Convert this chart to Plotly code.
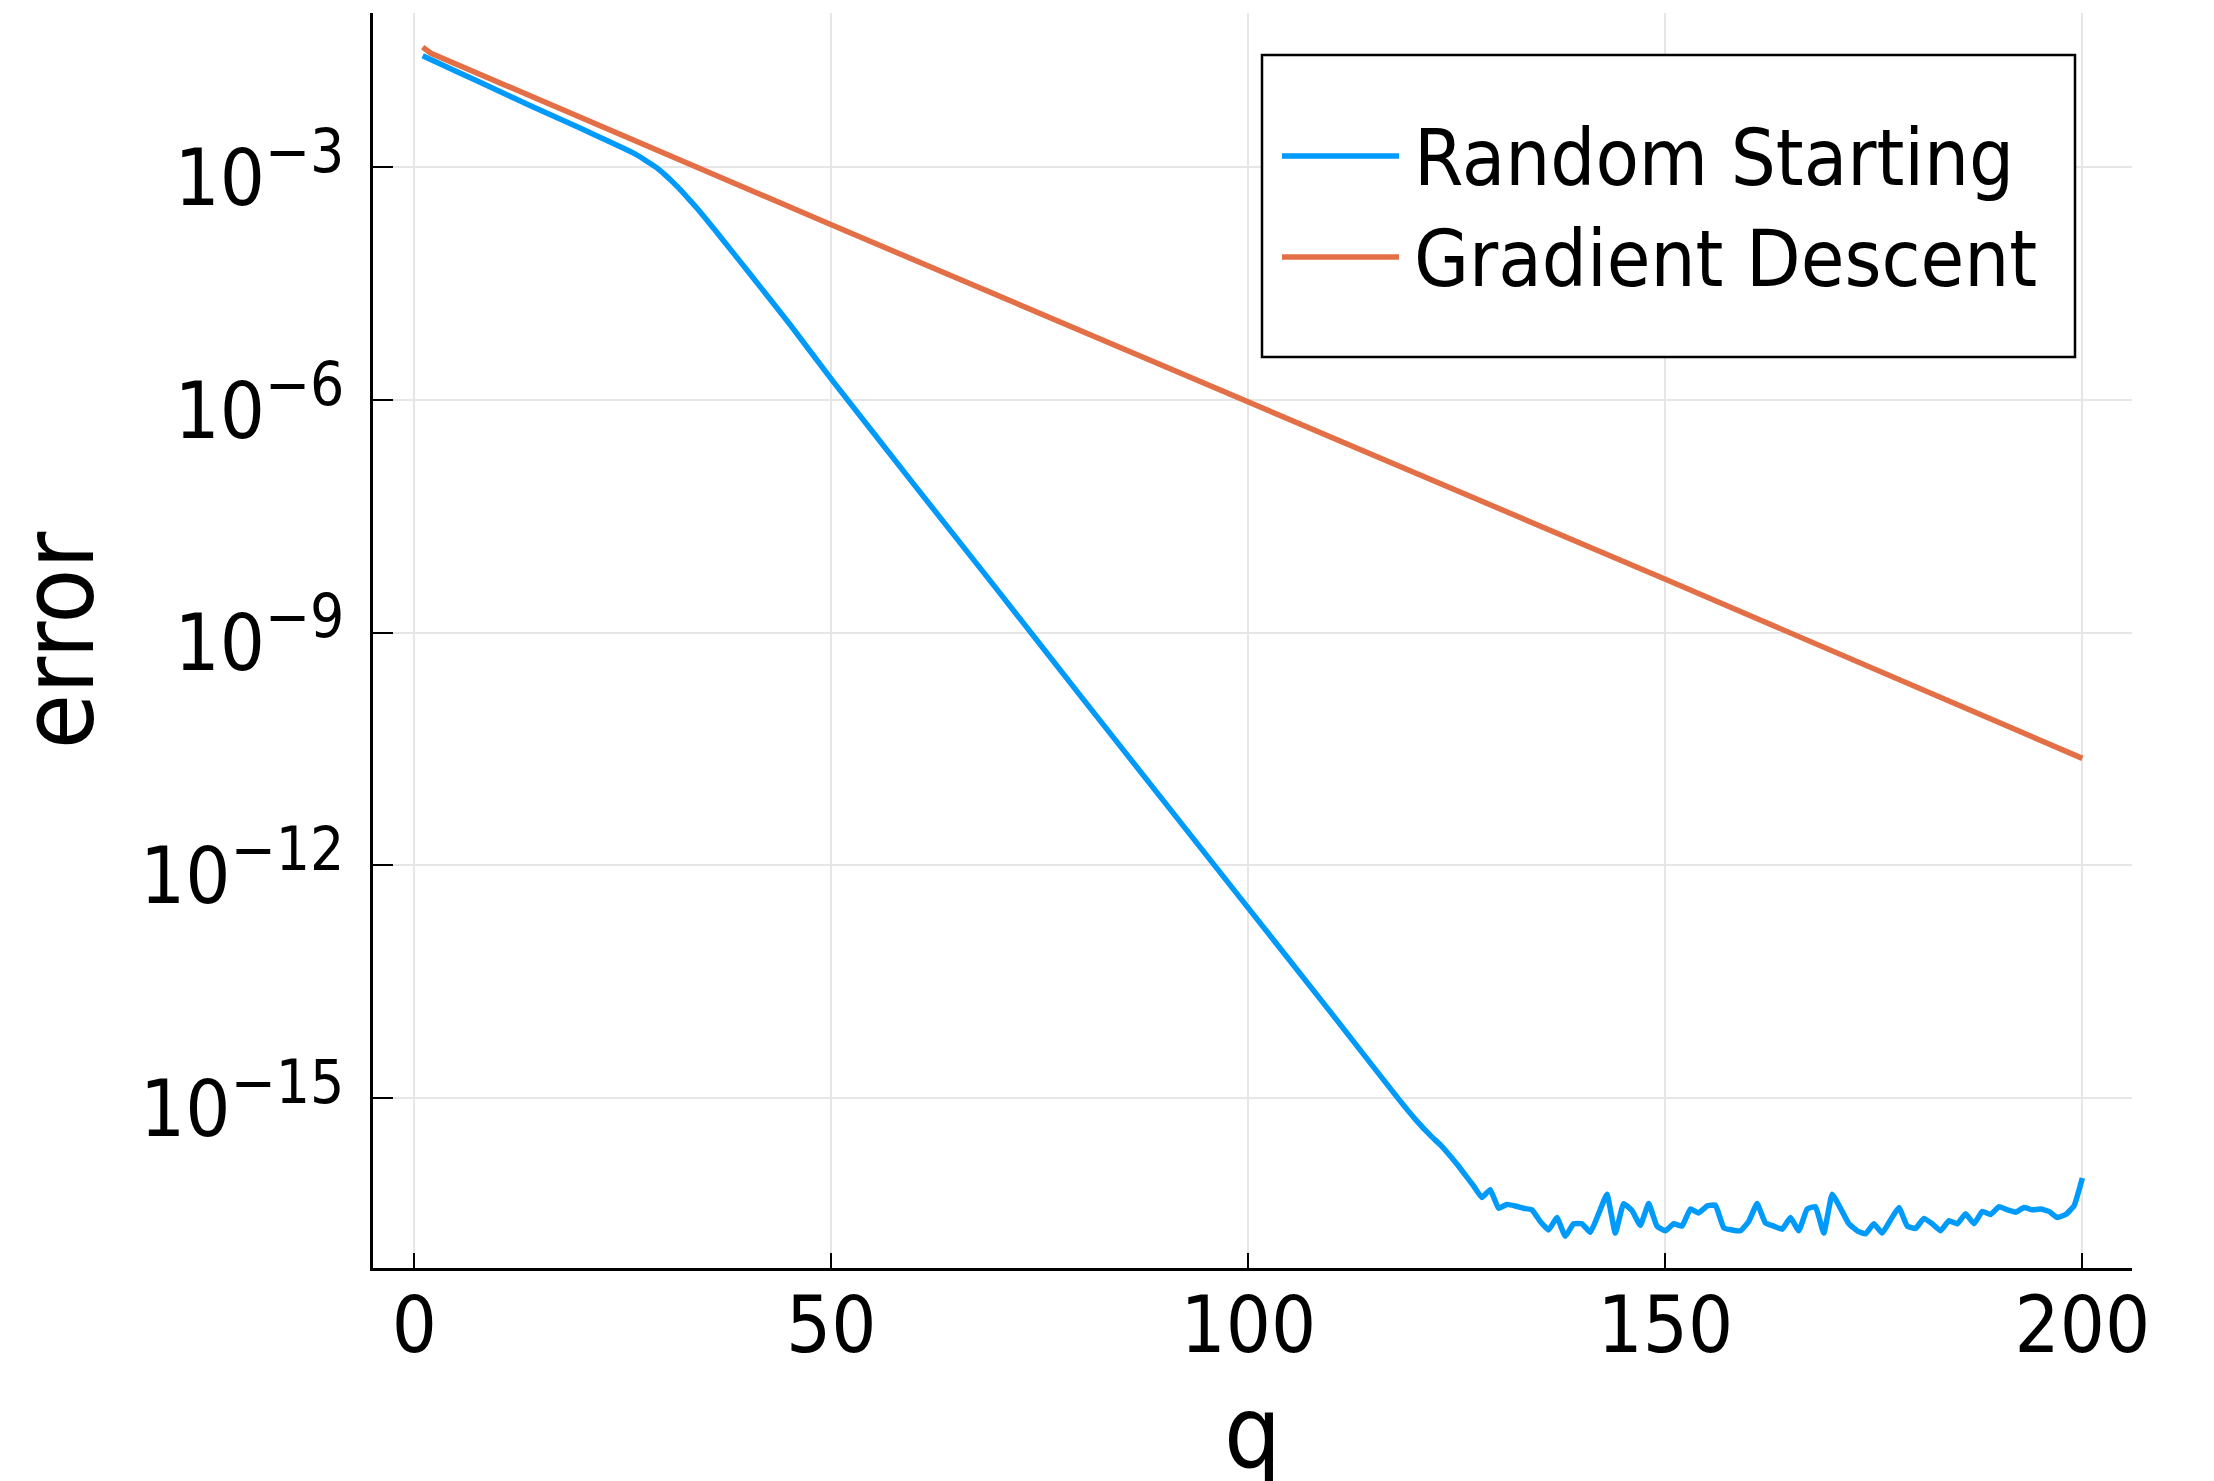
import plotly.graph_objects as go

# ---------------- data ----------------
# Random Starting: iteration q and log10(error)
rs_q = [1, 5, 10, 14, 20, 24, 26, 27, 28, 29, 30, 31, 32, 33, 34, 35, 36, 38, 40,
        45, 50, 60, 70, 80, 90, 100, 110, 118, 120, 122, 123, 125, 126, 127, 128, 129,
        130, 131, 132, 133, 134, 135, 136, 137, 138, 139, 140, 141, 142, 143, 144,
        145, 146, 147, 148, 149, 150, 151, 152, 153, 154, 155, 156, 157, 158, 159,
        160, 161, 162, 163, 164, 165, 166, 167, 168, 169, 170, 171, 172, 173, 174,
        175, 176, 177, 178, 179, 180, 181, 182, 183, 184, 185, 186, 187, 188, 189,
        190, 191, 192, 193, 194, 195, 196, 197, 198, 199, 200]
rs_log10_err = [-1.56, -1.76, -2.01, -2.21, -2.50, -2.70, -2.80, -2.86, -2.93, -3.00,
                -3.09, -3.19, -3.30, -3.42, -3.54, -3.67, -3.80, -4.07, -4.34, -5.02,
                -5.73, -7.10, -8.46, -9.83, -11.19, -12.55, -13.91, -15.01, -15.27,
                -15.50, -15.60, -15.85, -15.99, -16.13, -16.28, -16.18, -16.42, -16.37,
                -16.39, -16.42, -16.44, -16.59, -16.70, -16.54, -16.78, -16.62, -16.62,
                -16.73, -16.49, -16.24, -16.74, -16.36, -16.45, -16.64, -16.36, -16.65,
                -16.71, -16.62, -16.65, -16.43, -16.48, -16.39, -16.38, -16.67, -16.70,
                -16.71, -16.59, -16.36, -16.61, -16.65, -16.69, -16.54, -16.71, -16.43,
                -16.40, -16.74, -16.24, -16.42, -16.62, -16.71, -16.75, -16.62, -16.74,
                -16.57, -16.41, -16.65, -16.68, -16.55, -16.62, -16.71, -16.58, -16.62,
                -16.49, -16.62, -16.46, -16.50, -16.40, -16.44, -16.47, -16.41, -16.44,
                -16.43, -16.46, -16.54, -16.50, -16.39, -16.03]

# Gradient Descent: iteration q and log10(error)
gd_q = [1, 2, 50, 100, 150, 200]
gd_log10_err = [-1.45, -1.53, -3.74, -6.02, -8.31, -10.62]

series_names = ["Random Starting", "Gradient Descent"]
x_ticks = [0, 50, 100, 150, 200]
y_ticks = [1e-3, 1e-6, 1e-9, 1e-12, 1e-15]
y_exponents = ["\u22123", "\u22126", "\u22129", "\u221212", "\u221215"]
x_label = "q"
y_label = "error"

# ---------------- styling / layout ----------------
BLUE = "#009AFA"
ORANGE = "#E36F47"
FONT = "DejaVu Sans Condensed, Liberation Sans Narrow, DejaVu Sans, sans-serif"
W, H = 2214, 1481
ML, MR, MT, MB = 373, 82, 13, 213
PW, PH = W - ML - MR, H - MT - MB
LW = 5.5


def px(x):
    return (x - ML) / PW


def py(y):
    return (H - MB - y) / PH


y_tick_text = ["10<sup><span style='font-size:60px'>%s</span></sup>" % e
               for e in y_exponents]

fig = go.Figure()
fig.add_trace(go.Scatter(x=rs_q, y=[10 ** v for v in rs_log10_err], mode="lines",
                         name=series_names[0],
                         line=dict(color=BLUE, width=LW, shape="spline", smoothing=0.35),
                         showlegend=False))
fig.add_trace(go.Scatter(x=gd_q, y=[10 ** v for v in gd_log10_err], mode="lines",
                         name=series_names[1], line=dict(color=ORANGE, width=LW),
                         showlegend=False))

# legend drawn by hand to match the reference box
shapes = [
    dict(type="rect", xref="paper", yref="paper", x0=px(1262), x1=px(2075),
         y0=py(357), y1=py(55), line=dict(color="black", width=2.5),
         fillcolor="white", layer="above"),
    dict(type="line", xref="paper", yref="paper", x0=px(1282), x1=px(1399),
         y0=py(156), y1=py(156), line=dict(color=BLUE, width=LW), layer="above"),
    dict(type="line", xref="paper", yref="paper", x0=px(1282), x1=px(1399),
         y0=py(257), y1=py(257), line=dict(color=ORANGE, width=LW), layer="above"),
]
annotations = [
    dict(text=series_names[0], xref="paper", yref="paper", x=px(1412), y=py(158),
         xanchor="left", yanchor="middle", showarrow=False,
         font=dict(family=FONT, size=79, color="black")),
    dict(text=series_names[1], xref="paper", yref="paper", x=px(1412), y=py(259),
         xanchor="left", yanchor="middle", showarrow=False,
         font=dict(family=FONT, size=79, color="black")),
    # x-axis title, placed low so that its descender is cut at the image edge
    dict(text=x_label, xref="paper", yref="paper", x=0.5, y=py(1433),
         xanchor="center", yanchor="middle", showarrow=False,
         font=dict(family=FONT, size=100, color="black")),
]

fig.update_layout(
    template="none",
    width=W, height=H,
    margin=dict(l=ML, r=MR, t=MT, b=MB, pad=0, autoexpand=False),
    paper_bgcolor="white", plot_bgcolor="white",
    font=dict(family=FONT, color="black"),
    shapes=shapes, annotations=annotations,
    showlegend=False,
)
fig.update_xaxes(
    automargin=False,
    range=[-4.95, 205.95], tickvals=x_ticks, ticks="inside", ticklen=15, tickwidth=2,
    tickcolor="black", showline=True, linecolor="black", linewidth=2.5,
    showgrid=True, gridcolor="#e6e6e6", gridwidth=2, zeroline=False,
    tickfont=dict(family=FONT, size=79), ticklabelstandoff=-14,
)
fig.update_yaxes(
    automargin=False,
    type="log", range=[-17.19, -1.01], tickvals=y_ticks, ticktext=y_tick_text,
    ticks="inside", ticklen=20, tickwidth=2, tickcolor="black", showline=True,
    linecolor="black", linewidth=2.5, showgrid=True, gridcolor="#e6e6e6",
    gridwidth=2, zeroline=False, tickfont=dict(family=FONT, size=79),
    ticklabelstandoff=10, ticklabelshift=10,
    title=dict(text=y_label, font=dict(family=FONT, size=100), standoff=36),
)

fig.write_html("out.html")
